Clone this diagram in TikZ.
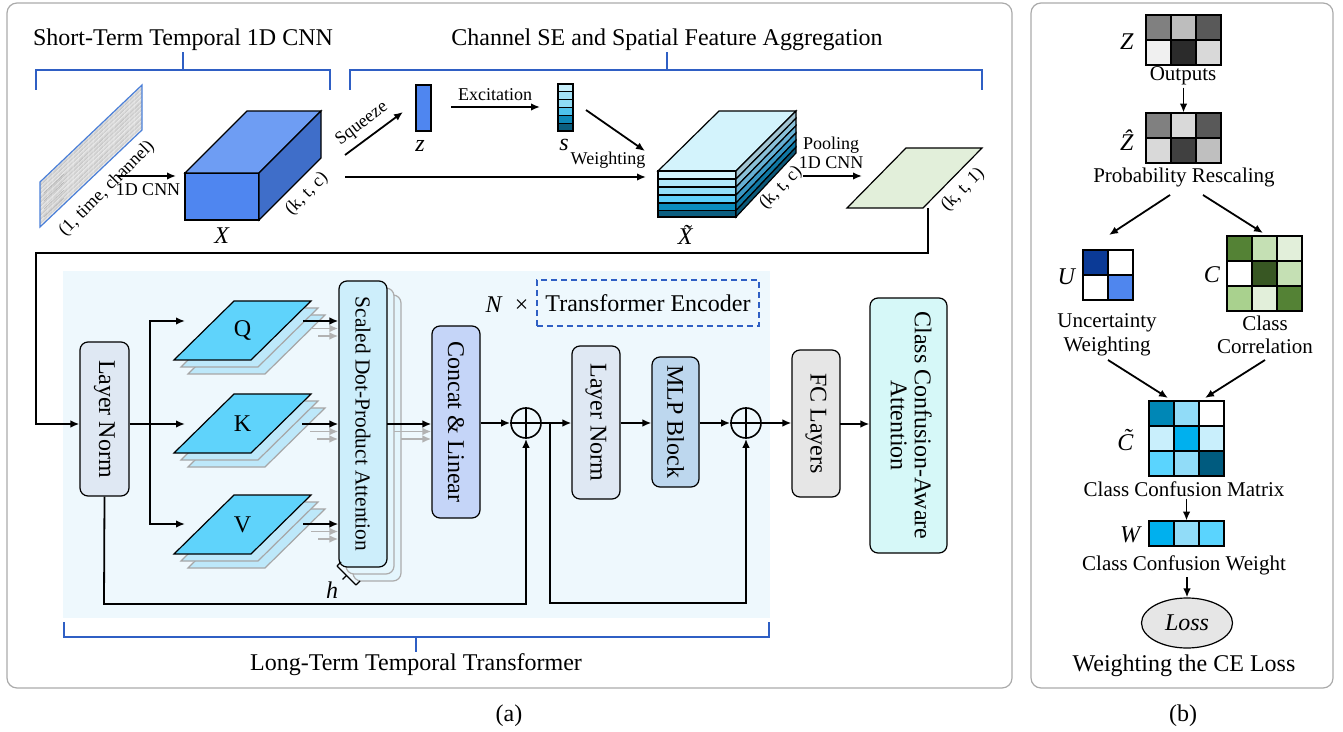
\documentclass[tikz,border=0pt]{standalone}
\usepackage{fontspec}
\setmainfont{Liberation Serif}
\usetikzlibrary{arrows.meta,calc,shapes.geometric}
\definecolor{bgC}{HTML}{EEF8FD}
\definecolor{lnC}{HTML}{DFE8F3}
\definecolor{attC}{HTML}{CDEEFB}
\definecolor{concC}{HTML}{C5D5F8}
\definecolor{mlpC}{HTML}{BDD7EE}
\definecolor{fcC}{HTML}{E6E6E6}
\definecolor{ccaC}{HTML}{D6F8F8}
\definecolor{qC}{HTML}{5FD3FB}
\definecolor{qCl}{HTML}{BDE8FA}
\definecolor{xFront}{HTML}{4F86F0}
\definecolor{xTop}{HTML}{6E9DF3}
\definecolor{xSide}{HTML}{3F6EC9}
\definecolor{blueB}{HTML}{2F5FC4}
\definecolor{greenP}{HTML}{E2EFDA}
\definecolor{panelB}{HTML}{AAAAAA}
\definecolor{sigB}{HTML}{4A7FD8}
% stripes
\definecolor{fa}{HTML}{D3F3FC}\definecolor{fb}{HTML}{B2E9FB}\definecolor{fc}{HTML}{93DFF9}
\definecolor{fd}{HTML}{5FD0FA}\definecolor{fe}{HTML}{0B8CBD}\definecolor{ff}{HTML}{0B5E80}
\definecolor{ra}{HTML}{A2C4D2}\definecolor{rb}{HTML}{8AC0D8}\definecolor{rc}{HTML}{66AFD3}
\definecolor{rd}{HTML}{3A97C4}\definecolor{re}{HTML}{0F78A5}\definecolor{rf}{HTML}{0B5878}
% matrices
\definecolor{ga}{HTML}{808080}\definecolor{gb}{HTML}{BDBDBD}\definecolor{gc}{HTML}{595959}
\definecolor{gd}{HTML}{F0F0F0}\definecolor{ge}{HTML}{2B2B2B}\definecolor{gf}{HTML}{D9D9D9}
\definecolor{gg}{HTML}{404040}\definecolor{gh}{HTML}{BFBFBF}
\definecolor{ua}{HTML}{0B3A96}\definecolor{ub}{HTML}{4F86EE}
\definecolor{ca}{HTML}{548235}\definecolor{cb}{HTML}{C5E0B4}\definecolor{cc}{HTML}{E2EFDA}
\definecolor{cd}{HTML}{385723}\definecolor{ce}{HTML}{A9D18E}
\definecolor{ta}{HTML}{0087B6}\definecolor{tb}{HTML}{91DCF8}\definecolor{tc}{HTML}{C9EFFC}
\definecolor{td}{HTML}{00B0EE}\definecolor{te}{HTML}{5AD4FE}\definecolor{tf}{HTML}{005B7F}
\newcommand\mcell[3]{\filldraw[cellst, fill=#3] (#1,#2) rectangle ++(25,25);}
\begin{document}
\begin{tikzpicture}[x=0.5pt,y=-0.5pt,
  arr/.style={-{Latex[length=4.5pt,width=3.8pt]}, line width=0.9pt},
  lnk/.style={line width=0.9pt},
  garr/.style={-{Latex[length=4.5pt,width=3.8pt]}, line width=0.9pt, draw=gray!60},
  box/.style={draw, rounded corners=4pt, line width=0.6pt, inner sep=0pt, align=center},
  boxc/.style={draw=gray!65, fill=attC!55, rounded corners=4pt, line width=0.6pt, inner sep=0pt},
  brk/.style={draw=blueB, line width=0.75pt},
  cellst/.style={draw, line width=0.6pt},
  fL/.style={font=\fontsize{12}{14}\selectfont},
  fM/.style={font=\fontsize{10.5}{11.8}\selectfont},
  fS/.style={font=\fontsize{9}{10.5}\selectfont},
  inner sep=1pt
]
\useasboundingbox (0,0) rectangle (1343,732);
% panels
\draw[panelB, line width=0.6pt, rounded corners=5pt] (7,3) rectangle (1012,688);
\draw[panelB, line width=0.6pt, rounded corners=5pt] (1031,3) rectangle (1333,688);
\node[fL] (capa) at (509,716) {(a)};
\node[fL] (capb) at (1183,716) {(b)};

% top brackets
\draw[brk] (36,90) -- (36,70) -- (330,70) -- (330,90);
\draw[brk] (183,70) -- (183,52);
\node[fL] (t1) at (183,40) {Short-Term Temporal 1D CNN};
\draw[brk] (350,90) -- (350,70) -- (982,70) -- (982,90);
\draw[brk] (667,70) -- (667,52);
\node[fL] (t2) at (667,40) {Channel SE and Spatial Feature Aggregation};

% input signal
\begin{scope}
\clip (40,227) -- (40,182) -- (142,85) -- (142,130) -- cycle;
\fill[gray!6] (30,70) rectangle (150,240);
\foreach \i in {0,...,44} {
  \pgfmathsetmacro\g{int(12+mod(\i*37,30))}
  \draw[black!\g, line width=0.25pt, opacity=0.6] (40,182+\i) -- ++(102,-97);
}
\foreach \i in {3,11,19,27,36} {
  \draw[black!45, line width=0.3pt, opacity=0.5] (44,190+\i) -- ++(20,-19);
}
\end{scope}
\draw[sigB, line width=0.6pt] (40,227) -- (40,182) -- (142,85) -- (142,130) -- cycle;
\coordinate (sig) at (118,176);
\node[fS, rotate=45] (siglab) at (107,189) {(1, time, channel)};

% X cuboid
\filldraw[line width=0.6pt, fill=xFront] (185,173) rectangle (259,220);
\filldraw[line width=0.6pt, fill=xTop] (185,173) -- (247,111) -- (321,111) -- (259,173) -- cycle;
\filldraw[line width=0.6pt, fill=xSide] (259,173) -- (321,111) -- (321,158) -- (259,220) -- cycle;
\coordinate (xin) at (176,176);
\draw[arr] (sig) -- (xin);
\node[fS] (cnn1) at (148,190) {1D CNN};
\node[fL] (xlab) at (222,236) {\textit{X}};
\node[fS, rotate=45] (xdim) at (307,194) {(k, t, c)};

% squeeze
\coordinate (sq0) at (345,155);
\coordinate (sq1) at (403,112);
\draw[arr] (sq0) -- (sq1);
\node[fS, rotate=37] (sqlab) at (362,124) {Squeeze};
\node[draw, line width=0.6pt, fill=xFront, minimum width=7.5pt, minimum height=23pt, inner sep=0pt] (z) at (423.5,108) {};
\node[fL] (zlab) at (420,146) {\textit{z}};
% excitation
\coordinate (ex0) at (451,107);
\coordinate (ex1) at (540,107);
\draw[arr] (ex0) -- (ex1);
\node[fS] (exlab) at (495,95) {Excitation};
\foreach \i/\c in {0/C7EEFA, 1/A4E2F7, 2/8FDCF5, 3/4FC2EC, 4/0E88B8, 5/0B5E7F} {
  \definecolor{tmpc}{HTML}{\c}
  \filldraw[line width=0.6pt, fill=tmpc] (558,84+\i*7.83) rectangle (573,84+\i*7.83+7.83);
}
\node[inner sep=0pt, minimum width=7.5pt, minimum height=23.5pt] (s) at (565.5,107.5) {};
\node[fL] (slab) at (564,145) {\textit{s}};
\coordinate (sw0) at (586,110);
\coordinate (sw1) at (645,151);
\draw[arr] (sw0) -- (sw1);
% weighting
\coordinate (w0) at (345,177);
\coordinate (w1) at (646,177);
\draw[arr] (w0) -- (w1);
\node[fS] (wlab) at (608,160) {Weighting};

% X tilde
\filldraw[line width=0.6pt, fill=fa] (658,171) -- (719,111) -- (796,111) -- (736,171) -- cycle;
\foreach \a/\b/\c in {171/179/fa, 179/187/fb, 187/195/fc, 195/203/fd, 203/210.5/fe, 210.5/217/ff}
  \filldraw[line width=0.6pt, fill=\c] (658,\a) rectangle (736,\b);
\foreach \a/\b/\c/\d/\e in {171/179/111/118.3/ra, 179/187/118.3/125.6/rb, 187/195/125.6/132.9/rc, 195/203/132.9/140.2/rd, 203/210.5/140.2/147.1/re, 210.5/217/147.1/153/rf}
  \filldraw[line width=0.6pt, fill=\e] (736,\a) -- (796,\c) -- (796,\d) -- (736,\b) -- cycle;
\node[fL] (xtlab) at (690,235) {\textit{\~{X}}};
\node[fS, rotate=45] (xtdim) at (781,188) {(k, t, c)};
\coordinate (pl0) at (803,176);
\coordinate (pl1) at (862,176);
\draw[arr] (pl0) -- (pl1);
\node[fS] (pool) at (831,145) {Pooling};
\node[fS] (cnn2) at (831,163) {1D CNN};
% green plane
\filldraw[line width=0.6pt, fill=greenP] (847,208) -- (906,148) -- (982,148) -- (923,208) -- cycle;
\node[fS, rotate=45] (gdim) at (963,190) {(k, t, 1)};
\coordinate (gp) at (928,208);

% transformer background
\fill[bgC] (63,271) rectangle (770,618);
\draw[brk] (64,622) -- (64,637) -- (769,637) -- (769,622);
\draw[brk] (416,637) -- (416,652);
\node[fL] (t3) at (416,665) {Long-Term Temporal Transformer};

% layer norm 1
\node[box, fill=lnC, minimum width=24.5pt, minimum height=77pt, fL] (ln1) at (104.5,419) {\rotatebox{-90}{Layer Norm}};
\coordinate (lnin) at (36,424);
\draw[arr] (gp) |- (36,253) -- (lnin) -- (lnin -| ln1.west);

% QKV
\foreach \by/\nm/\lab in {360/q/Q, 453/k/K, 554/v/V} {
  \filldraw[line width=0.6pt, draw=gray!70, fill=qCl] (188,\by+14) -- ++(60,-59) -- ++(77,0) -- ++(-60,59) -- cycle;
  \filldraw[line width=0.6pt, draw=gray!70, fill=qCl] (181,\by+7) -- ++(60,-59) -- ++(77,0) -- ++(-60,59) -- cycle;
  \filldraw[line width=0.6pt, fill=qC] (174,\by) -- ++(60,-59) -- ++(77,0) -- ++(-60,59) -- cycle;
  \node[fL] (\nm) at (242.5,\by-29) {\lab};
}
\coordinate (kbr) at (150,424);
\coordinate (qa) at (185,321);
\coordinate (ka) at (185,424);
\coordinate (va) at (185,524);
\draw[arr] (ln1.east |- kbr) -- (ka);
\draw[arr] (kbr) |- (qa);
\draw[arr] (kbr) |- (va);

% attention
\node[boxc, minimum width=24pt, minimum height=143pt] (att3) at (377,438) {};
\node[boxc, minimum width=24pt, minimum height=143pt] (att2) at (370,431) {};
\node[box, fill=attC, minimum width=24pt, minimum height=143pt] (att) at (363,424) {\rotatebox{-90}{\fontsize{10.7}{12}\selectfont Scaled Dot-Product Attention}};
\foreach \y/\xa/\xb/\xc in {321/303/311/318, 424/302/310/317, 524/303/311/318} {
  \coordinate (bo) at (\xa,\y);
  \coordinate (go1) at (\xb,\y+7.5);
  \coordinate (go2) at (\xc,\y+15);
  \draw[garr] (go1) -- (go1 -| att.west);
  \draw[garr] (go2) -- (go2 -| att.west);
  \draw[arr] (bo) -- (bo -| att.west);
}
% h bracket
\draw[line width=0.7pt] (337,566) -- (356,585);
\draw[line width=0.7pt] (337,566) -- ++(4,-4);
\draw[line width=0.7pt] (356,585) -- ++(4,-4);
\draw[line width=0.7pt] (346.5,575.5) -- ++(-4,4);
\node[fL] (hlab) at (332,590) {\textit{h}};

% concat
\node[box, fill=concC, minimum width=24pt, minimum height=96pt, fL] (conc) at (456,422) {\rotatebox{-90}{Concat \& Linear}};
\coordinate (ga1) at (394,431.5);
\coordinate (ga2) at (401,439);
\draw[garr] (ga1) -- (ga1 -| conc.west);
\draw[garr] (ga2) -- (ga2 -| conc.west);
\coordinate (ao) at (387,424);
\draw[arr] (ao) -- (ao -| conc.west);

% plus 1
\node[circle, draw, line width=0.8pt, fill=bgC, minimum size=15pt, inner sep=0pt] (p1) at (526,423) {};
\draw[line width=0.8pt] (p1.north) -- (p1.south) (p1.west) -- (p1.east);
\draw[arr] (conc.east |- p1) -- (p1.west);
\draw[arr] (ln1.south) -- (104,604) -| (p1.south);

% layer norm 2, MLP
\node[box, fill=lnC, minimum width=24pt, minimum height=76.5pt, fL] (ln2) at (596,422.5) {\rotatebox{-90}{Layer Norm}};
\node[box, fill=mlpC, minimum width=23.5pt, minimum height=65pt, fL] (mlp) at (675.5,422) {\rotatebox{-90}{MLP Block}};
\node[circle, draw, line width=0.8pt, fill=bgC, minimum size=15pt, inner sep=0pt] (p2) at (746,423) {};
\draw[line width=0.8pt] (p2.north) -- (p2.south) (p2.west) -- (p2.east);
\draw[arr] (p1.east) -- (p1 -| ln2.west);
\draw[arr] (ln2.east |- p1) -- (p1 -| mlp.west);
\draw[arr] (mlp.east |- p2) -- (p2.west);
\coordinate (br2) at (550,423);
\draw[arr] (br2) -- (550,603) -| (p2.south);

% encoder label
\node[fL] (nx) at (507,305) {\textit{N}\hspace{6pt}×};
\node[draw=blueB, dash pattern=on 3pt off 2pt, line width=0.6pt, minimum width=111pt, minimum height=23pt, inner sep=0pt, fL] (enc) at (648,303) {Transformer Encoder};

% FC and CCA
\node[box, fill=fcC, minimum width=24pt, minimum height=73.5pt, fL] (fc) at (816,423.5) {\rotatebox{-90}{FC Layers}};
\node[box, fill=ccaC, minimum width=38.5pt, minimum height=127.5pt, fL] (cca) at (908.5,425.5) {\rotatebox{-90}{\begin{tabular}{@{}c@{}}Class Confusion-Aware\\[-2pt]Attention\end{tabular}}};
\draw[arr] (p2.east) -- (p2 -| fc.west);
\coordinate (fco) at (840,424);
\draw[arr] (fco) -- (fco -| cca.west);

% ===== panel b =====
\mcell{1146}{15}{ga}\mcell{1171}{15}{gb}\mcell{1196}{15}{gc}
\mcell{1146}{40}{gd}\mcell{1171}{40}{ge}\mcell{1196}{40}{gf}
\node[minimum width=37.5pt, minimum height=25pt, inner sep=0pt] (zg) at (1183.5,40) {};
\node[fL] (zl) at (1127,42) {\textit{Z}};
\node[fM] (outp) at (1183,76) {Outputs};
\mcell{1146}{113}{ga}\mcell{1171}{113}{gf}\mcell{1196}{113}{gc}
\mcell{1146}{138}{gf}\mcell{1171}{138}{gg}\mcell{1196}{138}{gh}
\node[minimum width=37.5pt, minimum height=25pt, inner sep=0pt] (zhg) at (1183.5,138) {};
\node[fL] (zhl) at (1127,140) {\textit{\^{Z}}};
\draw[arr] (outp.south -| zhg) -- (zhg.north);
\node[fM] (prob) at (1184,177) {Probability Rescaling};
% U
\mcell{1083}{250}{ua}\mcell{1108}{250}{white}
\mcell{1083}{275}{white}\mcell{1108}{275}{ub}
\node[minimum width=25pt, minimum height=25pt, inner sep=0pt] (ug) at (1108,275) {};
\node[fL] (ul) at (1067,277) {\textit{U}};
% C
\mcell{1227}{236}{ca}\mcell{1252}{236}{cb}\mcell{1277}{236}{cc}
\mcell{1227}{261}{white}\mcell{1252}{261}{cd}\mcell{1277}{261}{cb}
\mcell{1227}{286}{ce}\mcell{1252}{286}{cc}\mcell{1277}{286}{ca}
\node[minimum width=37.5pt, minimum height=37.5pt, inner sep=0pt] (cg) at (1264.5,273.5) {};
\node[fL] (cl) at (1212,275) {\textit{C}};
\coordinate (pa) at (1170,195);
\coordinate (pb) at (1203,195);
\draw[arr] (pa) -- (1109,235);
\draw[arr] (pb) -- (1263,233);
\node[fM, align=center] (unc) at (1107,335) {Uncertainty\\Weighting};
\node[fM, align=center] (cor) at (1265,335) {Class\\Correlation};
% C tilde
\mcell{1149}{401}{ta}\mcell{1174}{401}{tb}\mcell{1199}{401}{white}
\mcell{1149}{426}{tc}\mcell{1174}{426}{td}\mcell{1199}{426}{tc}
\mcell{1149}{451}{te}\mcell{1174}{451}{tb}\mcell{1199}{451}{tf}
\node[minimum width=37.5pt, minimum height=37.5pt, inner sep=0pt] (ctg) at (1186.5,438.5) {};
\node[fL] (ctl) at (1130,440) {\textit{\~{C}}};
\coordinate (ua0) at (1108,360);
\coordinate (ca0) at (1265,360);
\draw[arr] (ua0) -- (1168,398);
\draw[arr] (ca0) -- (1205,398);
\node[fM] (ccm) at (1184,489) {Class Confusion Matrix};
% W
\mcell{1149}{521}{td}\mcell{1174}{521}{tb}\mcell{1199}{521}{te}
\node[minimum width=37.5pt, minimum height=12.5pt, inner sep=0pt] (wg) at (1186.5,533.5) {};
\node[fL] (wl) at (1131,535) {\textit{W}};
\draw[arr] (ccm.south -| wg) -- (wg.north);
\node[fM] (ccw) at (1184,565) {Class Confusion Weight};
\node[ellipse, draw, line width=0.6pt, fill=fcC, minimum width=45.5pt, minimum height=25pt, inner sep=0pt, fL] (loss) at (1187,623) {\textit{Loss}};
\draw[arr] (ccw.south -| loss) -- (loss.north);
\node[fL] (wce) at (1184,666) {Weighting the CE Loss};
\end{tikzpicture}
\end{document}
